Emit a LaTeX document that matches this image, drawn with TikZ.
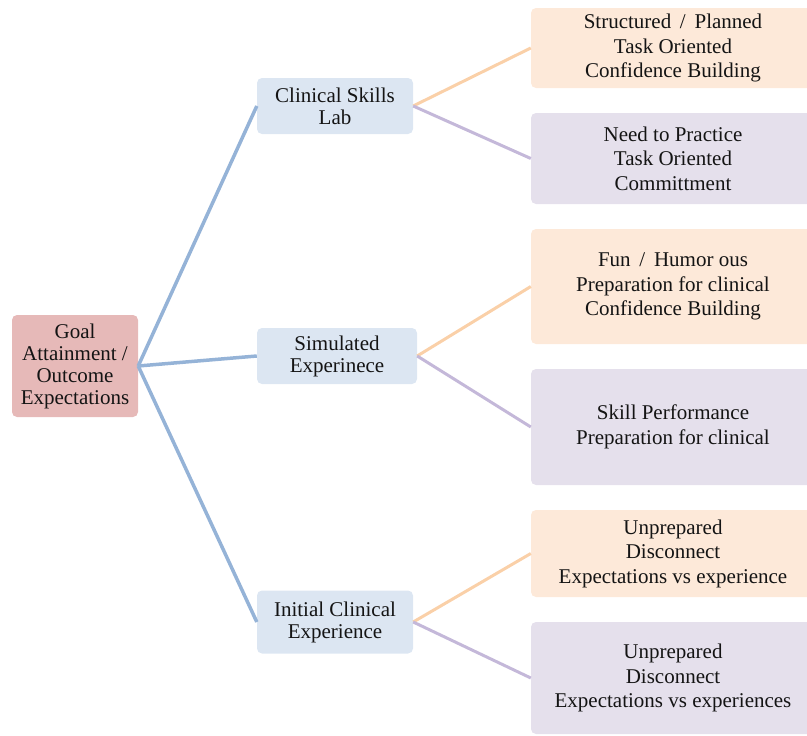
\documentclass[tikz,border=0pt]{standalone}
\usepackage{fontspec}
\setmainfont{Liberation Serif}
\definecolor{rootfill}{HTML}{E6B9B8}
\definecolor{midfill}{HTML}{DCE6F2}
\definecolor{orfill}{HTML}{FDE9D9}
\definecolor{pufill}{HTML}{E5E0EC}
\definecolor{blueline}{HTML}{95B3D7}
\definecolor{orline}{HTML}{FAD0A8}
\definecolor{puline}{HTML}{C4B8D9}
\definecolor{txt}{HTML}{141414}
\tikzset{
  box/.style={rectangle, rounded corners=5pt, inner sep=0pt, align=center, text=txt,
    font=\fontsize{21}{22}\selectfont},
  rootbox/.style={box, fill=rootfill, minimum width=126pt},
  midbox/.style={box, fill=midfill},
  leafbox/.style={box, minimum width=284pt, font=\fontsize{21}{24.5}\selectfont},
  orbox/.style={leafbox, fill=orfill},
  pubox/.style={leafbox, fill=pufill},
  blink/.style={draw=blueline, line width=3.5pt},
  olink/.style={draw=orline, line width=3pt},
  plink/.style={draw=puline, line width=3pt},
}
\begin{document}
\begin{tikzpicture}[x=1pt,y=-1pt]
\useasboundingbox (0,0) rectangle (807,736);
\clip (0,0) rectangle (807,736);
\node[rootbox, minimum height=102pt] (root) at (75,366) {Goal\\Attainment /\\Outcome\\Expectations};
\node[midbox, minimum width=156pt, minimum height=56pt] (m1) at (335,106) {Clinical Skills\\Lab};
\node[midbox, minimum width=160pt, minimum height=56pt] (m2) at (337,356) {Simulated\\Experinece};
\node[midbox, minimum width=156pt, minimum height=63pt] (m3) at (335,622) {Initial Clinical\\Experience};
\node[orbox, minimum height=80pt] (l1) at (673,48) {Structured \,/\, Planned\\Task Oriented\\Confidence Building};
\node[pubox, minimum height=91pt] (l2) at (673,158.5) {Need to Practice\\Task Oriented\\Committment};
\node[orbox, minimum height=115pt] (l3) at (673,286.5) {Fun \,/\, Humor ous\\Preparation for clinical\\Confidence Building};
\node[pubox, minimum height=116pt] (l4) at (673,427) {Skill Performance\\Preparation for clinical};
\node[orbox, minimum height=87pt] (l5) at (673,553.5) {Unprepared\\Disconnect\\Expectations vs experience};
\node[pubox, minimum height=112pt] (l6) at (673,678) {Unprepared\\Disconnect\\Expectations vs experiences};
\draw[blink] (root.east) -- (m1.west);
\draw[blink] (root.east) -- (m2.west);
\draw[blink] (root.east) -- (m3.west);
\draw[olink] (m1.east) -- (l1.west);
\draw[plink] (m1.east) -- (l2.west);
\draw[olink] (m2.east) -- (l3.west);
\draw[plink] (m2.east) -- (l4.west);
\draw[olink] (m3.east) -- (l5.west);
\draw[plink] (m3.east) -- (l6.west);
\end{tikzpicture}
\end{document}
